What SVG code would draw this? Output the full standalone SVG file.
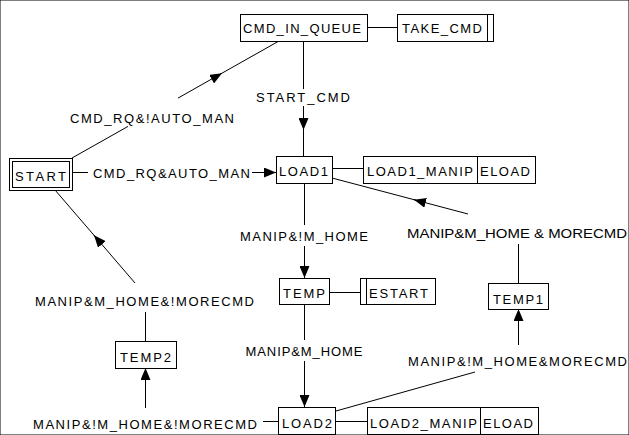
<svg xmlns="http://www.w3.org/2000/svg" width="629" height="435" viewBox="0 0 629 435">
<style>
rect{fill:#fff;stroke:#000;stroke-width:1}
line,.ln{stroke:#000;stroke-width:1;fill:none}
text{font-family:"Liberation Sans",Arial,sans-serif;font-size:13px;fill:#000;text-anchor:middle}
.st{text-anchor:start}
</style>
<defs>
<marker id="arr" markerUnits="userSpaceOnUse" markerWidth="12" markerHeight="10" refX="12" refY="5" orient="auto" viewBox="0 0 12 10">
<path d="M0,0 L12,5 L0,10 z" fill="#000"/>
</marker>
</defs>
<rect width="629" height="435" fill="#fff" stroke="none"/>
<g id="connectors">
<line x1="367" y1="27.5" x2="397" y2="27.5"/>
<line x1="303.5" y1="41" x2="303.5" y2="89"/>
<line x1="303.5" y1="106" x2="303.5" y2="130" marker-end="url(#arr)"/>
<line x1="303.5" y1="128" x2="303.5" y2="156"/>
<line x1="72" y1="158" x2="128" y2="126.4"/>
<line x1="178" y1="98.1" x2="222" y2="73.2" marker-end="url(#arr)"/>
<line x1="220" y1="74.3" x2="279" y2="41"/>
<line x1="72" y1="172.5" x2="88" y2="172.5"/>
<line x1="252" y1="172.5" x2="276" y2="172.5" marker-end="url(#arr)"/>
<line x1="304.5" y1="183" x2="304.5" y2="225"/>
<line x1="304.5" y1="246" x2="304.5" y2="278" marker-end="url(#arr)"/>
<line x1="332" y1="168.5" x2="363" y2="168.5"/>
<line x1="518.5" y1="283" x2="518.5" y2="244"/>
<line x1="468" y1="214" x2="414" y2="199.7" marker-end="url(#arr)"/>
<line x1="416" y1="200.2" x2="332" y2="178"/>
<line x1="329" y1="292.5" x2="360" y2="292.5"/>
<line x1="304.5" y1="304" x2="304.5" y2="340"/>
<line x1="304.5" y1="361" x2="304.5" y2="407" marker-end="url(#arr)"/>
<line x1="336" y1="411" x2="475" y2="372"/>
<line x1="518.5" y1="345" x2="518.5" y2="309" marker-end="url(#arr)"/>
<line x1="336" y1="421.5" x2="367" y2="421.5"/>
<line x1="263" y1="421.5" x2="278" y2="421.5"/>
<line x1="145.5" y1="408" x2="145.5" y2="368" marker-end="url(#arr)"/>
<line x1="145.5" y1="341" x2="145.5" y2="312"/>
<line x1="135" y1="283" x2="94" y2="235.3" marker-end="url(#arr)"/>
<line x1="95.5" y1="237" x2="55" y2="190"/>
</g>
<g id="labels">
<text x="303" y="102" textLength="94" lengthAdjust="spacing">START_CMD</text>
<text x="152" y="122.5" textLength="164" lengthAdjust="spacing">CMD_RQ&amp;!AUTO_MAN</text>
<text x="171.5" y="177.5" textLength="157" lengthAdjust="spacing">CMD_RQ&amp;AUTO_MAN</text>
<text x="304" y="240.5" textLength="128" lengthAdjust="spacing">MANIP&amp;!M_HOME</text>
<text class="st" x="407" y="237.5" textLength="220" lengthAdjust="spacingAndGlyphs">MANIP&amp;M_HOME &amp; MORECMD</text>
<text x="144.5" y="305.5" textLength="219" lengthAdjust="spacing">MANIP&amp;M_HOME&amp;!MORECMD</text>
<text x="304" y="355.5" textLength="117" lengthAdjust="spacing">MANIP&amp;M_HOME</text>
<text x="517.5" y="365.5" textLength="219" lengthAdjust="spacing">MANIP&amp;!M_HOME&amp;MORECMD</text>
<text x="145" y="428.5" textLength="224" lengthAdjust="spacing">MANIP&amp;!M_HOME&amp;!MORECMD</text>
</g>
<g id="CMD_IN_QUEUE"><rect x="240.5" y="14.5" width="127" height="27"/><text x="302" y="33" textLength="118" lengthAdjust="spacing">CMD_IN_QUEUE</text></g>
<g id="TAKE_CMD"><rect x="397.5" y="14.5" width="96" height="27"/><line x1="487.5" y1="14.5" x2="487.5" y2="41.5"/><text x="442" y="33" textLength="80" lengthAdjust="spacing">TAKE_CMD</text></g>
<g id="START"><rect x="9.5" y="158.5" width="63" height="32"/><rect x="12.5" y="161.5" width="57" height="26"/><text x="40.5" y="180.5" textLength="51" lengthAdjust="spacing">START</text></g>
<g id="LOAD1"><rect x="276.5" y="156.5" width="56" height="27"/><text x="303.5" y="176" textLength="49" lengthAdjust="spacing">LOAD1</text></g>
<g id="LOAD1_MANIP"><rect x="363.5" y="156.5" width="114" height="27"/><text x="420" y="176" textLength="106" lengthAdjust="spacing">LOAD1_MANIP</text></g>
<g id="ELOAD1"><rect x="477.5" y="156.5" width="58" height="27"/><text x="505" y="176" textLength="50" lengthAdjust="spacing">ELOAD</text></g>
<g id="TEMP"><rect x="279.5" y="278.5" width="50" height="26"/><text x="304" y="298" textLength="42" lengthAdjust="spacing">TEMP</text></g>
<g id="ESTART"><rect x="360.5" y="278.5" width="75" height="26"/><line x1="366.5" y1="278.5" x2="366.5" y2="304.5"/><text x="398.5" y="298" textLength="59" lengthAdjust="spacing">ESTART</text></g>
<g id="TEMP1"><rect x="488.5" y="283.5" width="60" height="26"/><text x="518" y="304" textLength="50" lengthAdjust="spacing">TEMP1</text></g>
<g id="TEMP2"><rect x="115.5" y="341.5" width="61" height="27"/><text x="145.5" y="362" textLength="51" lengthAdjust="spacing">TEMP2</text></g>
<g id="LOAD2"><rect x="278.5" y="407.5" width="57" height="27"/><text x="307" y="428" textLength="50" lengthAdjust="spacing">LOAD2</text></g>
<g id="LOAD2_MANIP"><rect x="367.5" y="407.5" width="113" height="27"/><text x="423.5" y="428" textLength="107" lengthAdjust="spacing">LOAD2_MANIP</text></g>
<g id="ELOAD2"><rect x="480.5" y="407.5" width="58" height="27"/><text x="508" y="428" textLength="50" lengthAdjust="spacing">ELOAD</text></g>
</svg>
